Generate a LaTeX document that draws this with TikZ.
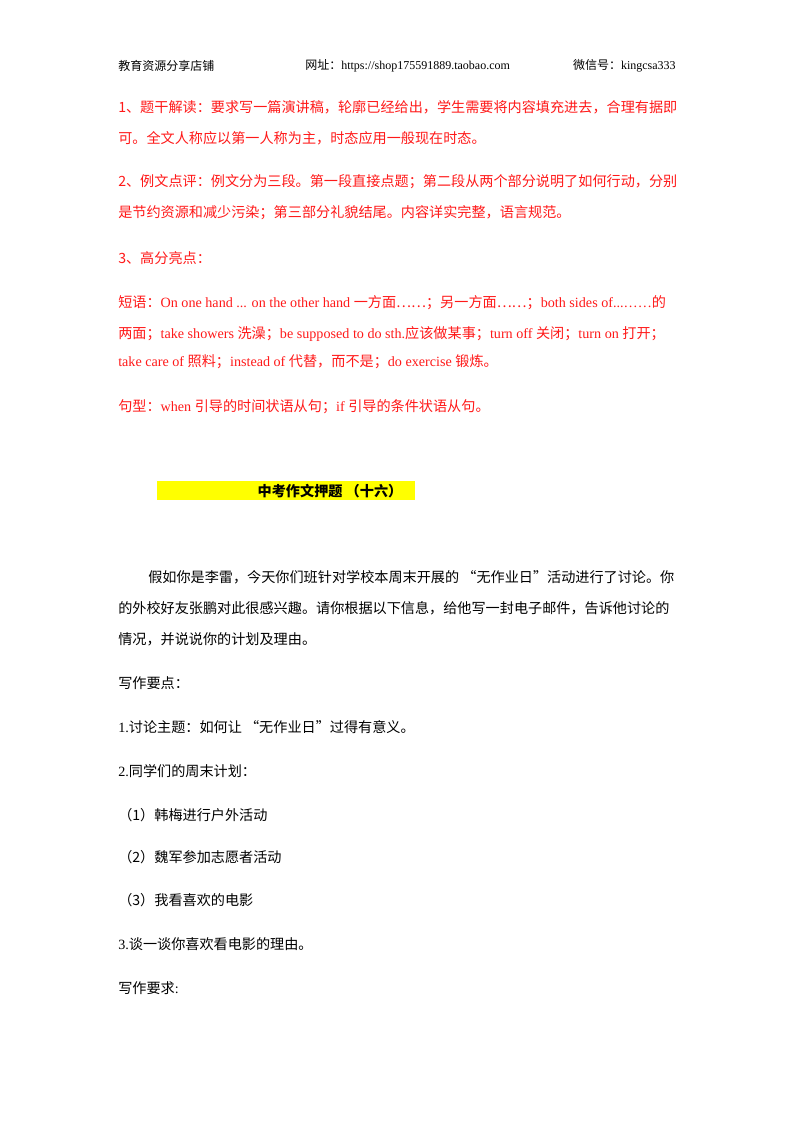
\documentclass[tikz,border=0pt]{standalone}
\usepackage{fontspec}
\setmainfont{Liberation Serif}
\newfontfamily\cjk{Noto Sans CJK SC}
\usepackage{tikz}
\definecolor{notered}{rgb}{1,0.1,0.1}
\definecolor{baryellow}{rgb}{1,1,0}
\newcommand{\zh}[1]{{\cjk #1}}
\begin{document}
\begin{tikzpicture}[
    x=0.75pt, y=-0.75pt,
    line/.style={anchor=west, inner sep=0pt, font=\fontsize{10.6pt}{13pt}\selectfont},
    redline/.style={line, text=notered},
    head/.style={inner sep=0pt, font=\fontsize{9pt}{11pt}\selectfont}
]
    \useasboundingbox[fill=white] (0,0) rectangle (800,1132);
    % header
    \node[head, anchor=west] (hleft) at (118,66) {\zh{教育资源分享店铺}};
    \node[head, anchor=west] (hmid) at (305,66) {\zh{网址：}https://shop175591889.taobao.com};
    \node[head, anchor=east] (hright) at (676,66) {\zh{微信号：}kingcsa333};
    % red notes
    \node[redline] (n1a) at (118,107) {\zh{1、题干解读：要求写一篇演讲稿，轮廓已经给出，学生需要将内容填充进去，合理有据即}};
    \node[redline] (n1b) at (118,138) {\zh{可。全文人称应以第一人称为主，时态应用一般现在时态。}};
    \node[redline] (n2a) at (118,182) {\zh{2、例文点评：例文分为三段。第一段直接点题；第二段从两个部分说明了如何行动，分别}};
    \node[redline] (n2b) at (118,213) {\zh{是节约资源和减少污染；第三部分礼貌结尾。内容详实完整，语言规范。}};
    \node[redline] (n3) at (118,258) {\zh{3、高分亮点：}};
    \node[redline] (p1) at (118,303) {\zh{短语：}On one hand ... on the other hand \zh{一方面……；另一方面……；}both sides of...……\zh{的}};
    \node[redline] (p2) at (118,334) {\zh{两面；}take showers \zh{洗澡；}be supposed to do sth.\zh{应该做某事；}turn off \zh{关闭；}turn on \zh{打开；}};
    \node[redline] (p3) at (118,362) {take care of \zh{照料；}instead of \zh{代替，而不是；}do exercise \zh{锻炼。}};
    \node[redline] (s1) at (118,407) {\zh{句型：}when \zh{引导的时间状语从句；}if \zh{引导的条件状语从句。}};
    % title bar
    \fill[baryellow] (157,481) rectangle (415,500);
    \node[line, anchor=center] (title) at (330,491) {{\cjk\bfseries 中考作文押题 （十六）}};
    % task
    \node[line] (t1) at (148,577) {\zh{假如你是李雷，今天你们班针对学校本周末开展的 “无作业日”活动进行了讨论。你}};
    \node[line] (t2) at (118,608) {\zh{的外校好友张鹏对此很感兴趣。请你根据以下信息，给他写一封电子邮件，告诉他讨论的}};
    \node[line] (t3) at (118,639) {\zh{情况，并说说你的计划及理由。}};
    \node[line] (k0) at (118,683) {\zh{写作要点：}};
    \node[line] (k1) at (118,727) {1.\zh{讨论主题：如何让 “无作业日”过得有意义。}};
    \node[line] (k2) at (118,771) {2.\zh{同学们的周末计划：}};
    \node[line] (k21) at (118,815) {\zh{（1）韩梅进行户外活动}};
    \node[line] (k22) at (118,857) {\zh{（2）魏军参加志愿者活动}};
    \node[line] (k23) at (118,900) {\zh{（3）我看喜欢的电影}};
    \node[line] (k3) at (118,944) {3.\zh{谈一谈你喜欢看电影的理由。}};
    \node[line] (r0) at (118,988) {\zh{写作要求}:};
\end{tikzpicture}
\end{document}
